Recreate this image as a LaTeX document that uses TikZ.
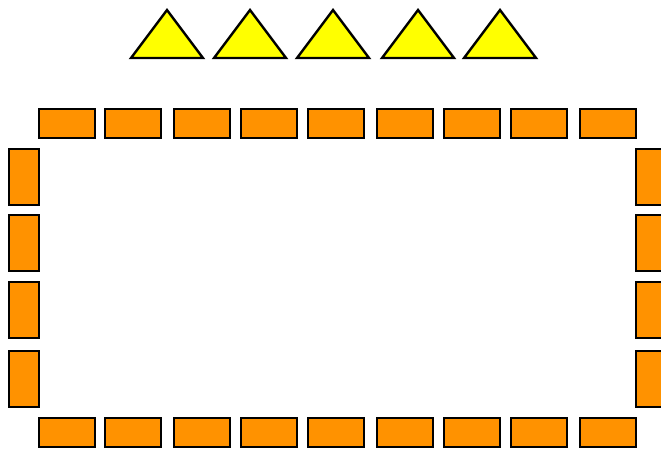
\documentclass[tikz,border=0pt]{standalone}
\definecolor{brick}{HTML}{FF9200}
\definecolor{tri}{HTML}{FFFF00}
\begin{document}
\begin{tikzpicture}[x=1pt,y=-1pt,
  hbrick/.style={draw=black,line width=2.6pt,fill=brick,minimum width=56pt,minimum height=29pt,inner sep=0pt,outer sep=0pt},
  vbrick/.style={draw=black,line width=2.6pt,fill=brick,minimum width=30pt,minimum height=56pt,inner sep=0pt,outer sep=0pt},
  trishape/.style={draw=black,line width=2.4pt,fill=tri,line join=miter}]
\useasboundingbox (0,0) rectangle (661,448);
\clip (0,0) rectangle (661,448);
% triangles
\foreach \a [count=\i] in {167,250,333,418,500}
  \draw[trishape] (\a-36,58) -- (\a,10) -- (\a+36,58) -- cycle;
% top and bottom rows
\foreach \l [count=\i] in {39,105,174,241,308,377,444,511,580} {
  \node[hbrick] (t\i) at (\l+28,123.5) {};
  \node[hbrick] (b\i) at (\l+28,432.5) {};
}
% side columns
\foreach \c [count=\i] in {177,243,310,379} {
  \node[vbrick] (l\i) at (24,\c) {};
  \node[vbrick] (r\i) at (651,\c) {};
}
\end{tikzpicture}
\end{document}
